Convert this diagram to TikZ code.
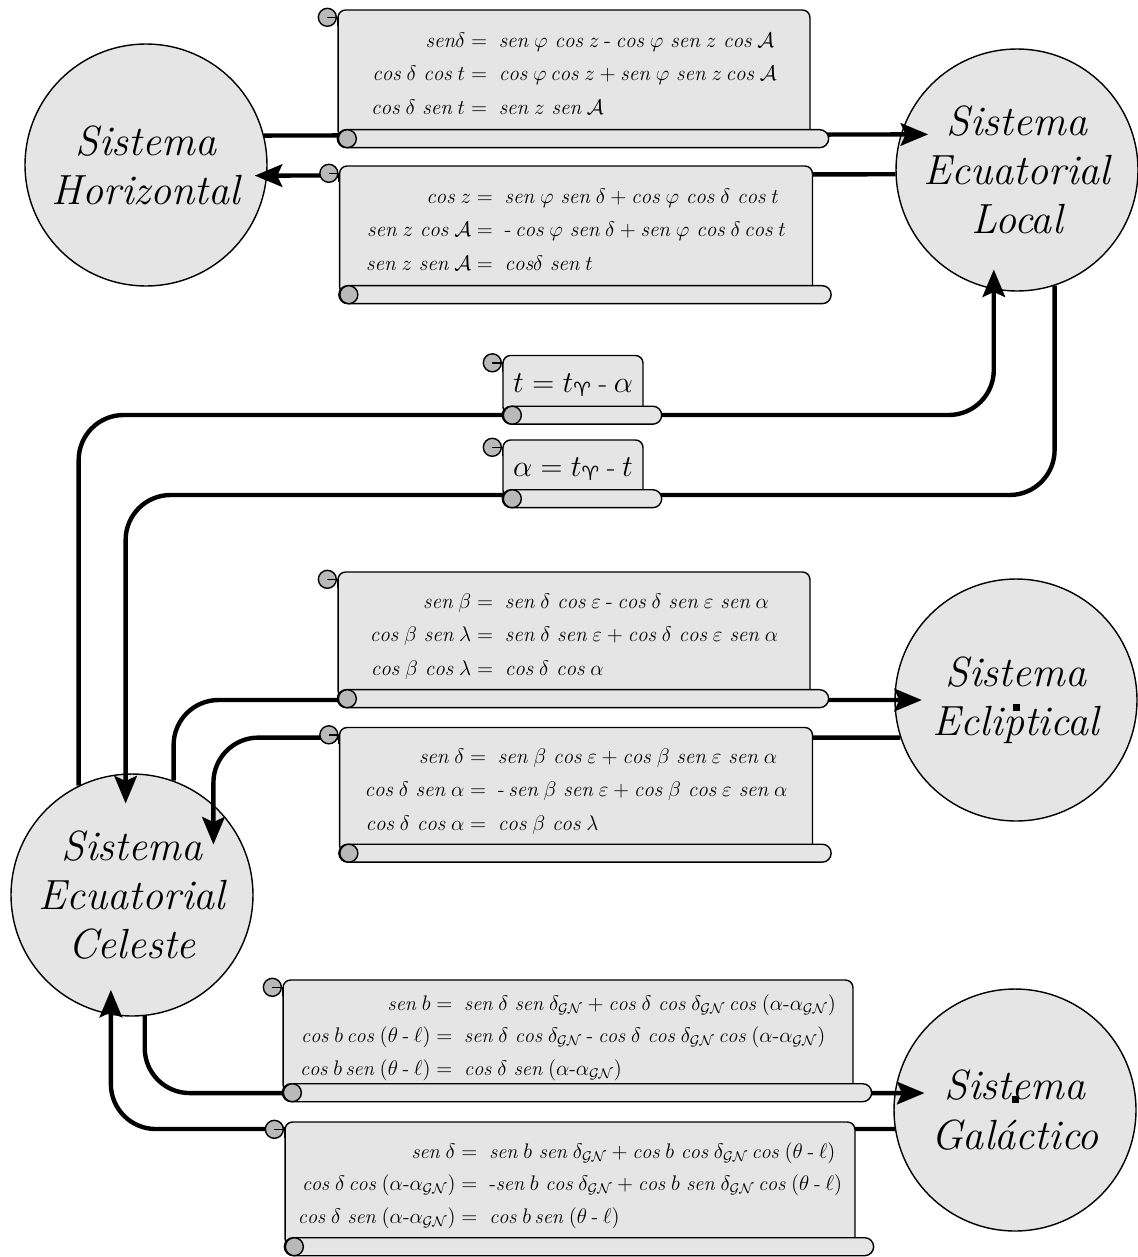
\documentclass[tikz,border=0pt]{standalone}
\usepackage{amsmath,amssymb}
\usepackage{fontspec}
\newfontfamily\signos{DejaVu Sans}
\usetikzlibrary{shapes, positioning, arrows.meta, calc}

\newcommand{\sen}{\mathit{sen}\;}
\newcommand{\cosn}{\mathit{cos}\;}
\newcommand{\menos}{\mathbin{\text{-}}}
\newcommand{\aries}{\text{\signos ♈}}
\newcommand{\GN}{\mathcal{GN}}

% rollo y rizos de un pergamino
\newcommand{\rollo}[1]{%
  \draw[rollo] ($(#1.south west)+(0,0.18cm)$) rectangle ($(#1.south east)+(0.36cm,-0.18cm)$);
  \draw[rizo] ($(#1.south west)+(0.2cm,0)$) circle (0.18cm);
  \draw[rizo] ($(#1.north west)+(-0.2cm,-0.16cm)$) circle (0.18cm);
  \draw[line width=0.8pt] ($(#1.north west)+(-0.2cm,-0.16cm)$) -| ($(#1.north west)+(0,-0.34cm)$);
}

\begin{document}
\begin{tikzpicture}[x=0.02cm, y=-0.02cm,
    sistema/.style={circle, draw, line width=0.8pt, fill=gray!20, minimum size=4.84cm, inner sep=0pt, align=center, font=\fontsize{24}{28}\selectfont\itshape},
    pergamino/.style={draw, line width=0.8pt, fill=gray!20, rounded corners=0.15cm, inner sep=0pt, font=\fontsize{12}{19}\selectfont},
    rollo/.style={draw, line width=0.8pt, fill=gray!20, rounded corners=0.18cm},
    rizo/.style={draw, line width=0.8pt, fill=gray!55},
    enlace/.style={line width=2.5pt, rounded corners=0.9cm},
    flecha/.style={enlace, -{Stealth[length=0.55cm, width=0.45cm, inset=0.1cm]}}
]
    \useasboundingbox (0,0) rectangle (1137,1257);

    % Sistemas
    \node[sistema] (H) at (146,165) {Sistema\\Horizontal};
    \node[sistema] (L) at (1017,170) {Sistema\\Ecuatorial\\Local};
    \node[sistema] (E) at (1016,700) {Sistema\\Ecliptical};
    \node[sistema] (C) at (132,895) {Sistema\\Ecuatorial\\Celeste};
    \node[sistema] (G) at (1015,1110) {Sistema\\Gal\'actico};
    \node[fill, inner sep=0pt, minimum size=0.14cm] (mE) at (1016,707) {};
    \node[fill, inner sep=0pt, minimum size=0.14cm] (mG) at (1015,1099) {};

    % Enlaces
    \coordinate (pt) at (573,415);
    \coordinate (pa) at (573,495);
    \draw[flecha, shorten >=-0.55cm] (H.14) -- (L.163);
    \draw[flecha, shorten >=-0.25cm] (L.182) -- (H.-5);
    \draw[flecha, shorten >=-0.4cm] (C.116) |- (pt) -| (L.-101);
    \draw[flecha, shorten >=-0.6cm] (L.-72) |- (pa) -| (C.93);
    \draw[flecha, shorten >=-0.55cm] (C.70) |- (E.180);
    \draw[flecha, shorten >=-0.8cm] (E.198) -| (C.48);
    \draw[flecha, shorten >=-0.6cm] (C.-84) |- (G.172);
    \draw[flecha, shorten >=-0.5cm] (G.189) -| (C.-100);

    % Pergaminos
    \node[pergamino, minimum width=9.44cm, minimum height=2.56cm] (hzec) at (574,74) {$\begin{array}{@{}r@{\;=\;\;}l@{}}
        \mathit{sen}\delta & \sen\varphi\ \cosn z \menos \cosn\varphi\ \sen z\ \cosn\mathcal{A}\\
        \cosn\delta\ \cosn t & \cosn\varphi\,\cosn z + \sen\varphi\ \sen z\,\cosn\mathcal{A}\\
        \cosn\delta\ \sen t & \sen z\ \sen\mathcal{A}
    \end{array}$};
    \rollo{hzec}
    \node[pergamino, minimum width=9.46cm, minimum height=2.56cm] (echz) at (576,230) {$\begin{array}{@{}r@{\;=\;\;}l@{}}
        \cosn z & \sen\varphi\ \sen\delta + \cosn\varphi\ \cosn\delta\ \cosn t\\
        \sen z\ \cosn\mathcal{A} & \text{-}\,\cosn\varphi\ \sen\delta + \sen\varphi\ \cosn\delta\,\cosn t\\
        \sen z\ \sen\mathcal{A} & \mathit{cos}\delta\ \sen t
    \end{array}$};
    \rollo{echz}
    \node[pergamino, minimum width=2.8cm, minimum height=1.18cm, font=\fontsize{16}{18}\selectfont] (ct1) at (573,385) {$t = t_{\aries} \menos \alpha$};
    \rollo{ct1}
    \node[pergamino, minimum width=2.8cm, minimum height=1.16cm, font=\fontsize{16}{18}\selectfont] (ct2) at (573,469) {$\alpha = t_{\aries} \menos t$};
    \rollo{ct2}
    \node[pergamino, minimum width=9.44cm, minimum height=2.52cm] (ecel) at (574,635) {$\begin{array}{@{}r@{\;=\;\;}l@{}}
        \sen\beta & \sen\delta\ \cosn\varepsilon \menos \cosn\delta\ \sen\varepsilon\ \sen\alpha\\
        \cosn\beta\ \sen\lambda & \sen\delta\ \sen\varepsilon + \cosn\delta\ \cosn\varepsilon\ \sen\alpha\\
        \cosn\beta\ \cosn\lambda & \cosn\delta\ \cosn\alpha
    \end{array}$};
    \rollo{ecel}
    \node[pergamino, minimum width=9.46cm, minimum height=2.5cm] (elec) at (576,790) {$\begin{array}{@{}r@{\;=\;\;}l@{}}
        \sen\delta & \sen\beta\ \cosn\varepsilon + \cosn\beta\ \sen\varepsilon\ \sen\alpha\\
        \cosn\delta\ \sen\alpha & \text{-}\,\sen\beta\ \sen\varepsilon + \cosn\beta\ \cosn\varepsilon\ \sen\alpha\\
        \cosn\delta\ \cosn\alpha & \cosn\beta\ \cosn\lambda
    \end{array}$};
    \rollo{elec}
    \node[pergamino, minimum width=11.4cm, minimum height=2.24cm, font=\fontsize{11.5}{18.5}\selectfont] (ecga) at (568,1036) {$\begin{array}{@{}r@{\;=\;\;}l@{}}
        \sen b & \sen\delta\ \sen\delta_{\GN} + \cosn\delta\ \cosn\delta_{\GN}\,\cosn(\alpha\text{-}\alpha_{\GN})\\
        \cosn b\,\cosn(\theta \menos \ell) & \sen\delta\ \cosn\delta_{\GN} \menos \cosn\delta\ \cosn\delta_{\GN}\,\cosn(\alpha\text{-}\alpha_{\GN})\\
        \cosn b\,\sen(\theta \menos \ell) & \cosn\delta\ \sen(\alpha\text{-}\alpha_{\GN})
    \end{array}$};
    \rollo{ecga}
    \node[pergamino, minimum width=11.4cm, minimum height=2.48cm, font=\fontsize{11.5}{18.5}\selectfont] (gaec) at (570,1184) {$\begin{array}{@{}r@{\;=\;\;}l@{}}
        \sen\delta & \sen b\ \sen\delta_{\GN} + \cosn b\ \cosn\delta_{\GN}\,\cosn(\theta \menos \ell)\\
        \cosn\delta\,\cosn(\alpha\text{-}\alpha_{\GN}) & \text{-}\sen b\ \cosn\delta_{\GN} + \cosn b\ \sen\delta_{\GN}\,\cosn(\theta \menos \ell)\\
        \cosn\delta\ \sen(\alpha\text{-}\alpha_{\GN}) & \cosn b\,\sen(\theta \menos \ell)
    \end{array}$};
    \rollo{gaec}
\end{tikzpicture}
\end{document}
